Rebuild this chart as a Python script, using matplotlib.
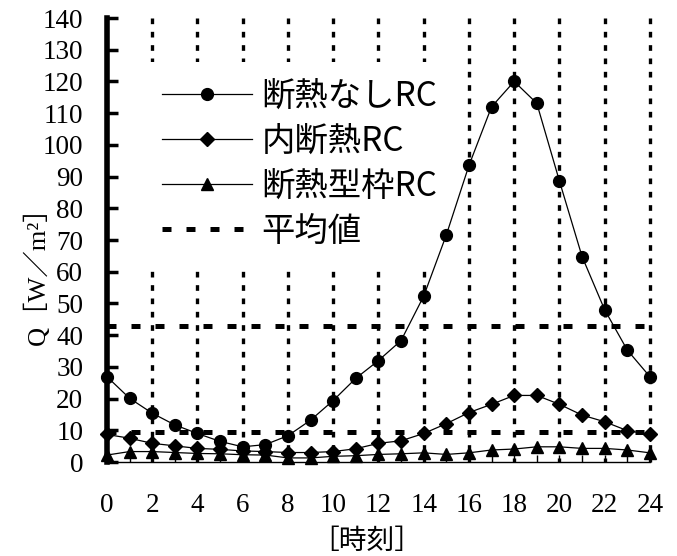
import matplotlib
matplotlib.use('Agg')
import matplotlib.pyplot as plt

plt.rcParams['font.family'] = ['Liberation Serif', 'Noto Sans CJK JP']

# data
hours = list(range(25))
no_insul = [26.9, 20.1, 15.4, 11.7, 9.0, 6.5, 4.8, 5.5, 8.3, 13.2, 19.4, 26.4, 32.0,
            38.3, 52.3, 71.6, 93.5, 112.0, 120.0, 113.1, 88.6, 64.8, 48.0, 35.3, 26.9]
inner_insul = [8.7, 7.5, 5.9, 5.1, 4.3, 4.0, 3.5, 3.3, 3.0, 3.0, 3.3, 4.2, 5.9,
               6.7, 9.0, 12.1, 15.6, 18.2, 21.0, 21.0, 18.2, 14.8, 12.7, 9.9, 8.7]
form_insul = [2.2, 3.3, 3.3, 3.0, 2.7, 2.6, 2.3, 2.2, 1.3, 1.3, 1.8, 2.0, 2.4,
              2.6, 2.9, 2.4, 2.9, 3.8, 4.1, 4.8, 4.8, 4.3, 4.3, 3.8, 2.9]
mean_levels = [42.9, 9.4]
labels = ['断熱なしRC', '内断熱RC', '断熱型枠RC', '平均値']
grid_hours = list(range(2, 25, 2))
yticks = list(range(0, 141, 10))

fig = plt.figure(figsize=(6.77, 5.56), dpi=100)
ax = fig.add_axes([0.158, 0.169, 0.802, 0.7986])

# dotted vertical grid, drawn top-down so the pattern starts at 140
for h in grid_hours:
    ax.plot([h, h], [140, 0], color='black', lw=2.4, ls=(0, (1.7, 2.3)),
            zorder=1, clip_on=False)

# mean lines
for i, m in enumerate(mean_levels):
    ax.plot([0, 24], [m, m], color='black', lw=3.6, ls=(0, (1.8, 3.0)),
            zorder=1.5, clip_on=False, label=labels[3] if i == 0 else None)

ax.plot(hours, no_insul, color='black', lw=0.9, marker='o', ms=8.5,
        clip_on=False, zorder=3, label=labels[0])
ax.plot(hours, inner_insul, color='black', lw=0.9, marker='D', ms=7.5,
        clip_on=False, zorder=3, label=labels[1])
ax.plot(hours, form_insul, color='black', lw=0.9, marker='^', ms=8.5,
        clip_on=False, zorder=3, label=labels[2])

ax.set_xlim(0, 24)
ax.set_ylim(0, 140)

ax.set_xticks(hours)
ax.set_xticklabels([str(h) if h % 2 == 0 else '' for h in hours])
ax.set_yticks(yticks)
ax.tick_params(axis='x', direction='in', length=5, width=1, pad=22, labelsize=19.5)
ax.tick_params(axis='y', direction='in', length=8, width=2.5, pad=17, labelsize=19.5)

ax.spines['top'].set_visible(False)
ax.spines['right'].set_visible(False)
ax.spines['left'].set_linewidth(4)
ax.spines['bottom'].set_linewidth(1)

ax.set_ylabel('Q［W／m²］', fontsize=19)
ax.yaxis.set_label_coords(-0.105, 0.435)
ax.set_xlabel('［時刻］', fontsize=20, family=['Noto Sans CJK JP'])
ax.xaxis.set_label_coords(0.479, -0.145)

handles, labs = ax.get_legend_handles_labels()
order = [labs.index(l) for l in labels]
leg = ax.legend([handles[i] for i in order], [labs[i] for i in order],
                loc='upper left', bbox_to_anchor=(0.07, 0.90), frameon=True,
                facecolor='white', edgecolor='none', framealpha=1, fancybox=False,
                prop={'family': 'Noto Sans CJK JP', 'size': 24},
                handlelength=2.7, handletextpad=0.3, labelspacing=0.3,
                borderpad=0.5, borderaxespad=0)
leg.set_zorder(2)

fig.savefig('out.png', dpi=100)
